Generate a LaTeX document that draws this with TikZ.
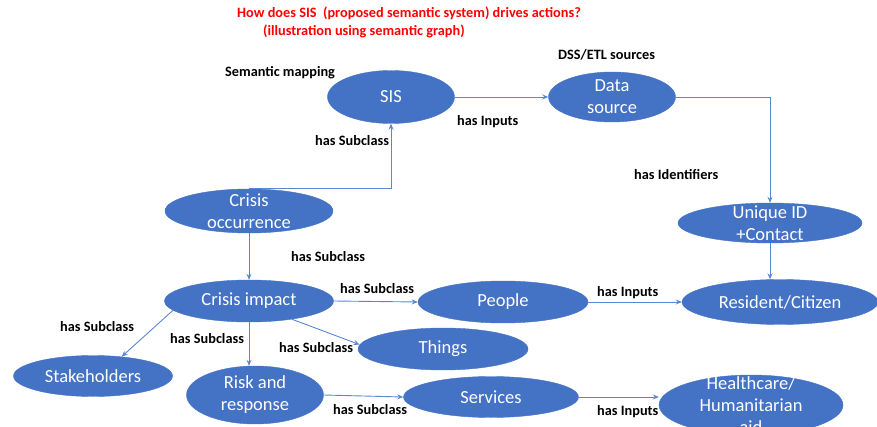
\documentclass[tikz,border=0pt]{standalone}
\usepackage{fontspec}
\setmainfont{Carlito}
\usetikzlibrary{arrows.meta,shapes.geometric,positioning}

\definecolor{nodeblue}{HTML}{4472C4}
\definecolor{lineblue}{HTML}{5B87D2}
\definecolor{titlered}{HTML}{FF0000}

\begin{document}
\begin{tikzpicture}[x=1pt,y=-1pt,>={Stealth[length=6pt,width=5pt]},
  ctext/.style={text=white,align=center,inner sep=0pt,
    font=\fontsize{18.5}{22}\selectfont},
  concept/.style={ellipse,fill=nodeblue,draw=nodeblue,inner sep=0pt,
    label={[ctext]center:#1}},
  rel/.style={anchor=west,inner sep=0pt,font=\bfseries\fontsize{14.3}{17}\selectfont},
  heading/.style={anchor=west,inner sep=0pt,text=titlered,
    font=\bfseries\fontsize{14.3}{17}\selectfont},
  link/.style={->,draw=lineblue,line width=0.9pt}]
  \useasboundingbox (0,0) rectangle (877,427);

  % title
  \node[heading] (title1) at (237,13) {How does SIS\ \ (proposed semantic system) drives actions?};
  \node[heading] (title2) at (263,31) {(illustration using semantic graph)};

  % concepts
  \node[concept=SIS,minimum width=127,minimum height=53] (sis) at (391,97) {};
  \node[concept={Data\\source},minimum width=127,minimum height=50] (dsrc) at (612,97) {};
  \node[concept={Crisis\\occurrence},minimum width=168,minimum height=44] (cocc) at (249,211) {};
  \node[concept={Unique ID\\+Contact},minimum width=184,minimum height=40] (uid) at (770,223) {};
  \node[concept={Crisis impact},minimum width=169,minimum height=42] (cimp) at (249,301) {};
  \node[concept=People,minimum width=170,minimum height=42] (people) at (503,302) {};
  \node[concept={Resident/Citizen},minimum width=196,minimum height=45] (resid) at (780,302) {};
  \node[concept=Things,minimum width=170,minimum height=42] (things) at (443,349) {};
  \node[concept=Stakeholders,minimum width=159,minimum height=41] (stake) at (93,376) {};
  \node[concept={Risk and\\response},minimum width=137,minimum height=58] (risk) at (255,395) {};
  \node[concept=Services,minimum width=175,minimum height=41] (serv) at (491,397) {};
  \node[concept={Healthcare/\\Humanitarian\\aid},minimum width=184,minimum height=60] (hcare) at (751,405) {};

  % side notes
  \node[rel] (smap) at (225,73) {Semantic mapping};
  \node[rel] (dss) at (558,55) {DSS/ETL sources};

  % relations
  \draw[link] (sis.east) -- (dsrc.west);
  \draw[link] (dsrc.east) -| (uid.north);
  \draw[link] (cocc.north) -| (sis.south);
  \draw[link] (cocc.south) -- (cimp.north);
  \draw[link] (cimp.east) -- (people.west);
  \draw[link] (people.east) -- (resid.west);
  \draw[link] (uid.south) -- (uid.south |- resid.north);
  \draw[link] (cimp.-23) -- (things.177);
  \draw[link] (cimp.187) -- (stake.34);
  \draw[link] (cimp.south) -- (cimp.south |- risk.north);
  \draw[link] (risk.east) -- (serv.west);
  \draw[link] (serv.east) -- (serv.east -| hcare.west);

  % relation labels
  \node[rel] (l1) at (457,122) {has Inputs};
  \node[rel] (l2) at (315,141) {has Subclass};
  \node[rel] (l3) at (634,175) {has Identifiers};
  \node[rel] (l4) at (291,257) {has Subclass};
  \node[rel] (l5) at (340,289) {has Subclass};
  \node[rel] (l6) at (597,293) {has Inputs};
  \node[rel] (l7) at (60,327) {has Subclass};
  \node[rel] (l8) at (170,339) {has Subclass};
  \node[rel] (l9) at (279,348) {has Subclass};
  \node[rel] (l10) at (333,410) {has Subclass};
  \node[rel] (l11) at (597,412) {has Inputs};
\end{tikzpicture}
\end{document}
